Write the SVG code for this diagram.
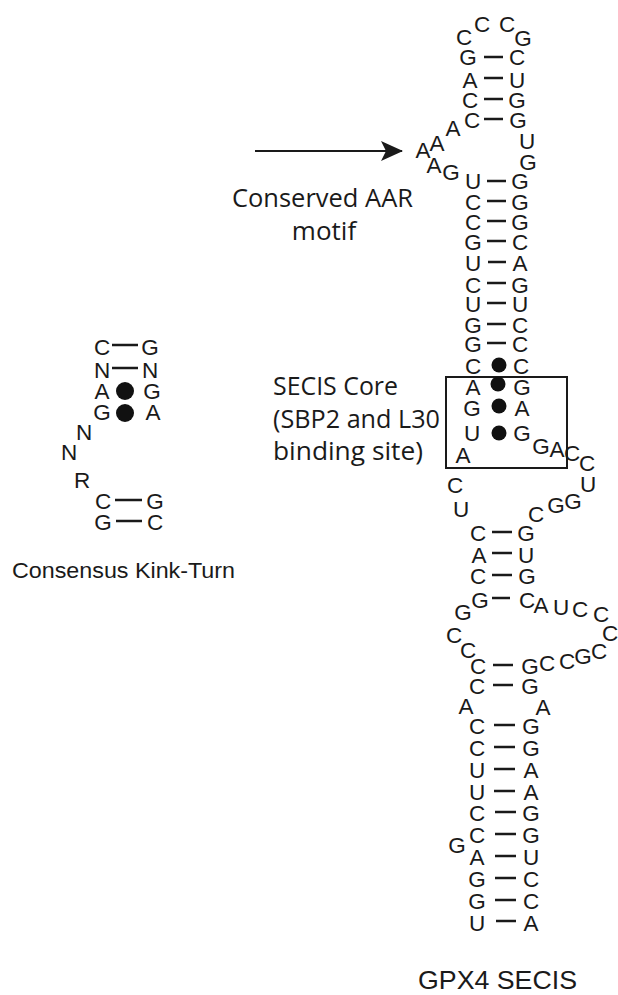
<svg xmlns="http://www.w3.org/2000/svg" width="618" height="995" viewBox="0 0 618 995">
<style>
.n{font-family:"Liberation Sans",Arial,sans-serif;font-size:22.5px;fill:#1a1a1a;text-anchor:middle}
.lab{font-family:"Open Sans","Noto Sans",sans-serif;font-size:26px;fill:#1a1a1a}
.cap{font-family:"Liberation Sans",Arial,sans-serif;fill:#1a1a1a}
.bp{stroke:#1a1a1a;stroke-width:2.6;fill:none}
.dot{fill:#111}
.box{fill:none;stroke:#1a1a1a;stroke-width:2}
</style>
<defs>
<marker id="ah" viewBox="0 0 22 20" refX="21" refY="10" markerWidth="22" markerHeight="20" markerUnits="userSpaceOnUse" orient="auto">
<path d="M0,0 L22,10 L0,20 L5,10 Z" fill="#1a1a1a"/>
</marker>
</defs>
<rect width="618" height="995" fill="#fff"/>

<g id="gpx4-apical-loop">
<text class="n" x="464" y="45">C</text>
<text class="n" x="482" y="32">C</text>
<text class="n" x="507" y="32">C</text>
<text class="n" x="523" y="46">G</text>
</g>
<g id="gpx4-apical-stem">
<text class="n" x="468" y="65">G</text><text class="n" x="517" y="65">C</text>
<text class="n" x="470" y="88">A</text><text class="n" x="517" y="88">U</text>
<text class="n" x="470" y="108">C</text><text class="n" x="517" y="108">G</text>
<text class="n" x="472" y="128">C</text><text class="n" x="518" y="128">G</text>
</g>
<g id="gpx4-bulge-right">
<text class="n" x="527" y="149">U</text>
<text class="n" x="528" y="170">G</text>
</g>
<g id="gpx4-aar-loop">
<text class="n" x="453" y="136">A</text>
<text class="n" x="437" y="151">A</text>
<text class="n" x="423" y="158">A</text>
<text class="n" x="434" y="173">A</text>
<text class="n" x="451" y="180">G</text>
</g>
<g id="gpx4-upper-stem">
<text class="n" x="473" y="189">U</text><text class="n" x="520" y="189">G</text>
<text class="n" x="473" y="210">C</text><text class="n" x="520" y="210">G</text>
<text class="n" x="473" y="230">C</text><text class="n" x="520" y="230">G</text>
<text class="n" x="473" y="250">G</text><text class="n" x="520" y="250">C</text>
<text class="n" x="473" y="271">U</text><text class="n" x="520" y="271">A</text>
<text class="n" x="473" y="293">C</text><text class="n" x="520" y="293">G</text>
<text class="n" x="473" y="312">U</text><text class="n" x="520" y="312">U</text>
<text class="n" x="473" y="333">G</text><text class="n" x="520" y="333">C</text>
<text class="n" x="473" y="352">G</text><text class="n" x="520" y="352">C</text>
<text class="n" x="473" y="374">C</text><text class="n" x="521" y="374">C</text>
</g>
<g id="gpx4-secis-core">
<rect class="box" x="446" y="377" width="121" height="91"/>
<text class="n" x="473" y="395">A</text><text class="n" x="522" y="395">G</text>
<text class="n" x="472" y="416">G</text><text class="n" x="522" y="416">A</text>
<text class="n" x="472" y="441">U</text><text class="n" x="522" y="441">G</text>
<text class="n" x="463" y="463">A</text>
</g>
<g id="gpx4-internal-loop-1">
<text class="n" x="541" y="454">G</text>
<text class="n" x="557" y="457">A</text>
<text class="n" x="572" y="461">C</text>
<text class="n" x="587" y="471">C</text>
<text class="n" x="588" y="492">U</text>
<text class="n" x="573" y="509">G</text>
<text class="n" x="556" y="513">G</text>
<text class="n" x="536" y="522">C</text>
<text class="n" x="455" y="493">C</text>
<text class="n" x="461" y="517">U</text>
</g>
<g id="gpx4-middle-stem">
<text class="n" x="478" y="541">C</text><text class="n" x="526" y="541">G</text>
<text class="n" x="479" y="563">A</text><text class="n" x="526" y="563">U</text>
<text class="n" x="478" y="584">C</text><text class="n" x="527" y="584">G</text>
<text class="n" x="480" y="608">G</text><text class="n" x="527" y="608">C</text>
</g>
<g id="gpx4-internal-loop-2">
<text class="n" x="463" y="620">G</text>
<text class="n" x="541" y="613">A</text>
<text class="n" x="561" y="615">U</text>
<text class="n" x="580" y="617">C</text>
<text class="n" x="601" y="622">C</text>
<text class="n" x="610" y="641">C</text>
<text class="n" x="599" y="659">C</text>
<text class="n" x="583" y="664">G</text>
<text class="n" x="567" y="669">C</text>
<text class="n" x="547" y="671">C</text>
<text class="n" x="454" y="643">C</text>
<text class="n" x="468" y="658">C</text>
</g>
<g id="gpx4-lower-stem-1">
<text class="n" x="478" y="674">C</text><text class="n" x="530" y="674">G</text>
<text class="n" x="477" y="694">C</text><text class="n" x="530" y="694">G</text>
</g>
<g id="gpx4-aa-bulge">
<text class="n" x="466" y="714">A</text>
<text class="n" x="543" y="715">A</text>
</g>
<g id="gpx4-basal-stem">
<text class="n" x="477" y="734">C</text><text class="n" x="531" y="734">G</text>
<text class="n" x="477" y="756">C</text><text class="n" x="531" y="756">G</text>
<text class="n" x="477" y="778">U</text><text class="n" x="531" y="778">A</text>
<text class="n" x="477" y="800">U</text><text class="n" x="531" y="800">A</text>
<text class="n" x="477" y="821">C</text><text class="n" x="531" y="821">G</text>
<text class="n" x="477" y="843">C</text><text class="n" x="531" y="843">G</text>
<text class="n" x="477" y="865">A</text><text class="n" x="531" y="865">U</text>
<text class="n" x="477" y="887">G</text><text class="n" x="531" y="887">C</text>
<text class="n" x="477" y="909">G</text><text class="n" x="531" y="909">C</text>
<text class="n" x="477" y="931">U</text><text class="n" x="531" y="931">A</text>
<text class="n" x="457" y="853">G</text>
</g>

<g id="kink-turn">
<text class="n" x="102" y="355">C</text><text class="n" x="150" y="355">G</text>
<text class="n" x="102" y="378">N</text><text class="n" x="150" y="378">N</text>
<text class="n" x="102" y="399">A</text><text class="n" x="152" y="399">G</text>
<text class="n" x="102" y="420">G</text><text class="n" x="153" y="420">A</text>
<text class="n" x="84" y="440">N</text>
<text class="n" x="69" y="460">N</text>
<text class="n" x="82" y="488">R</text>
<text class="n" x="103" y="509">C</text><text class="n" x="155" y="509">G</text>
<text class="n" x="103" y="530">G</text><text class="n" x="155" y="530">C</text>
</g>

<g id="labels">
<text class="lab" x="232" y="207" textLength="181" lengthAdjust="spacingAndGlyphs">Conserved AAR</text>
<text class="lab" x="324" y="240" text-anchor="middle">motif</text>
<text class="lab" x="273" y="395" textLength="125" lengthAdjust="spacingAndGlyphs">SECIS Core</text>
<text class="lab" x="273" y="428" textLength="167" lengthAdjust="spacingAndGlyphs">(SBP2 and L30</text>
<text class="lab" x="273" y="460" textLength="150" lengthAdjust="spacingAndGlyphs">binding site)</text>
<text class="cap" x="12" y="578" font-size="22.5" textLength="223" lengthAdjust="spacingAndGlyphs">Consensus Kink-Turn</text>
<text class="cap" x="418" y="989" font-size="26.5" textLength="159" lengthAdjust="spacingAndGlyphs">GPX4 SECIS</text>
</g>

<g id="connectors">
<line x1="255" y1="151" x2="402" y2="151" stroke="#1a1a1a" stroke-width="2" marker-end="url(#ah)"/>
<path class="bp" d="M484,57h19 M484,78h19 M484,99h19 M484,119h19
M487,181h19 M487,201h19 M487,221h19 M487,241h19 M488,262h18 M487,283h19 M487,303h19 M487,324h19 M487,343h19
M492,532h20 M492,553h20 M492,575h20 M492,598h18
M493,665h20 M493,685h20
M494,725h21 M494,747h21 M494,769h21 M494,791h21 M495,812h21 M495,834h21 M495,856h21 M495,878h21 M495,900h21 M496,921h20
M112,345h26 M112,368h26 M115,500h27 M116,521h26"/>
<circle class="dot" cx="499" cy="365" r="7.5"/>
<circle class="dot" cx="498" cy="384" r="7.5"/>
<circle class="dot" cx="499" cy="406" r="7.5"/>
<circle class="dot" cx="499" cy="433" r="7.5"/>
<circle class="dot" cx="125" cy="391" r="9"/>
<circle class="dot" cx="125" cy="413" r="9"/>
</g>
</svg>
